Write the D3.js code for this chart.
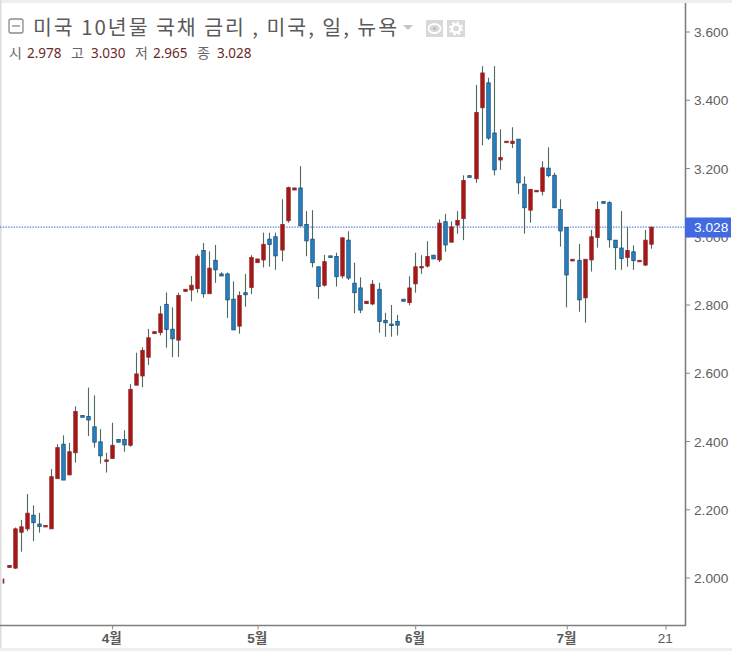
<!DOCTYPE html>
<html><head><meta charset="utf-8">
<script src="https://d3js.org/d3.v7.min.js"></script>
<style>html,body{margin:0;padding:0;background:#fff;overflow:hidden}svg{display:block}</style>
</head><body><svg id="c" width="732" height="651"></svg>
<script>
const opens=[1.985,2.031,2.029,2.134,2.144,2.184,2.158,2.151,2.144,2.291,2.392,2.302,2.367,2.476,2.473,2.443,2.399,2.342,2.350,2.406,2.406,2.389,2.565,2.592,2.647,2.716,2.719,2.802,2.729,2.697,2.840,2.844,2.848,2.960,2.833,2.931,2.891,2.891,2.817,2.738,2.836,2.851,2.924,2.932,2.993,3.000,2.961,3.047,3.137,3.143,3.036,2.993,2.912,2.858,2.944,2.942,2.885,2.990,2.864,2.850,2.804,2.803,2.846,2.755,2.744,2.752,2.817,2.807,2.862,2.909,2.914,2.946,2.932,3.044,2.984,3.034,3.053,3.179,3.170,3.378,3.451,3.304,3.225,3.277,3.273,3.286,3.154,3.078,3.132,3.133,3.201,3.180,3.080,3.027,2.929,2.931,2.821,2.932,2.998,3.103,3.100,2.990,2.967,2.939,2.956,2.928,2.917,2.978];
const highs=[1.997,2.037,2.148,2.170,2.246,2.213,2.191,2.154,2.319,2.392,2.418,2.396,2.503,2.476,2.558,2.535,2.436,2.367,2.455,2.406,2.433,2.568,2.660,2.676,2.730,2.722,2.797,2.837,2.793,2.836,2.846,2.885,2.949,2.982,2.957,2.976,2.896,2.895,2.869,2.840,2.891,2.946,2.935,3.012,3.012,3.012,3.110,3.147,3.143,3.207,3.075,3.078,2.912,2.947,2.944,2.953,2.997,3.016,2.924,2.881,2.811,2.873,2.865,2.777,2.800,2.771,2.817,2.884,2.953,2.946,2.987,2.946,3.051,3.067,3.045,3.075,3.180,3.179,3.445,3.500,3.466,3.500,3.315,3.280,3.321,3.286,3.177,3.139,3.136,3.221,3.262,3.188,3.110,3.027,2.934,2.979,2.934,3.020,3.104,3.103,3.104,2.990,3.075,3.029,2.975,2.931,3.020,3.030];
const lows=[1.985,2.031,2.026,2.077,2.137,2.108,2.133,2.151,2.144,2.291,2.287,2.302,2.338,2.471,2.416,2.382,2.335,2.309,2.350,2.398,2.370,2.385,2.565,2.559,2.624,2.716,2.711,2.675,2.647,2.648,2.840,2.811,2.836,2.821,2.833,2.865,2.885,2.762,2.727,2.716,2.795,2.832,2.924,2.910,2.912,2.903,2.928,3.041,3.137,3.032,2.943,2.910,2.818,2.854,2.939,2.854,2.878,2.873,2.776,2.776,2.804,2.799,2.719,2.707,2.707,2.711,2.811,2.799,2.836,2.891,2.910,2.935,2.926,2.956,2.984,3.009,2.990,3.174,3.158,3.268,3.284,3.180,3.196,3.277,3.260,3.125,3.009,3.041,3.132,3.121,3.174,3.085,2.971,2.793,2.929,2.780,2.748,2.898,2.968,3.098,2.968,2.903,2.903,2.912,2.903,2.928,2.914,2.965];
const closes=[1.997,2.037,2.144,2.150,2.190,2.162,2.151,2.154,2.297,2.382,2.287,2.370,2.488,2.471,2.463,2.398,2.358,2.346,2.389,2.398,2.390,2.553,2.598,2.667,2.704,2.722,2.774,2.728,2.701,2.828,2.846,2.858,2.943,2.833,2.908,2.903,2.885,2.815,2.727,2.828,2.830,2.939,2.935,2.978,2.977,2.944,3.036,3.144,3.143,3.032,2.988,2.924,2.854,2.927,2.939,2.883,2.997,2.879,2.836,2.785,2.811,2.861,2.752,2.748,2.741,2.741,2.811,2.850,2.912,2.913,2.942,2.935,3.040,2.976,3.029,3.048,3.165,3.174,3.364,3.480,3.289,3.196,3.232,3.280,3.280,3.158,3.085,3.139,3.136,3.202,3.179,3.085,3.017,2.888,2.934,2.815,2.934,3.000,3.080,3.098,2.991,2.968,2.936,2.960,2.930,2.931,2.990,3.028];
const yTicks=[2.0,2.2,2.4,2.6,2.8,3.0,3.2,3.4,3.6];
const xTickPos=[19,43,69,94,110.3];
const xTickLabels=["4월","5월","6월","7월","21"];
const lastPrice=3.028;
const titleText="미국 10년물 국채 금리 , 미국, 일, 뉴욕";
const legendKeys=["시","고","저","종"];
const legendVals=["2.978","3.030","2.965","3.028"];

const svg=d3.select("#c");
const x=d3.scaleLinear().domain([1,108]).range([2.7,651.3]);
const y=d3.scaleLinear().domain([2,3.6]).range([578,32]);
const plotR=685.5, plotB=625.5;
const SANS='"Liberation Sans",Arial,sans-serif', KR='"Noto Sans CJK KR",sans-serif';

// page chrome
svg.append("rect").attr("x",0).attr("y",0).attr("width",732).attr("height",3).attr("fill","#eeeeee");
svg.append("rect").attr("x",0).attr("y",648).attr("width",732).attr("height",3).attr("fill","#eeeeee");
svg.append("rect").attr("x",0).attr("y",0).attr("width",1.5).attr("height",648).attr("fill","#dddddd");

// last price line
svg.append("line").attr("x1",0).attr("x2",plotR).attr("y1",y(lastPrice)).attr("y2",y(lastPrice))
  .attr("stroke","#6286e2").attr("stroke-width",1.2).attr("stroke-dasharray","1.5 1.2");

// candles
const idx=d3.range(opens.length);
const px=i=>Math.round(x(i+1))+0.5;
const bw=i=>i===0?0.8:3.5;
const g=svg.append("g");
g.selectAll("line.w").data(idx).join("line").attr("class","w")
  .attr("x1",px).attr("x2",px)
  .attr("y1",i=>y(highs[i])).attr("y2",i=>y(lows[i]))
  .attr("stroke","#4d6b5e").attr("stroke-width",1.1);
g.selectAll("rect.b").data(idx).join("rect").attr("class","b")
  .attr("x",i=>px(i)-bw(i)/2).attr("width",bw)
  .attr("y",i=>y(Math.max(opens[i],closes[i])))
  .attr("height",i=>Math.max(1.5,Math.abs(y(opens[i])-y(closes[i]))))
  .attr("fill",i=>closes[i]>=opens[i]?"#a91616":"#2680c2")
  .attr("stroke",i=>closes[i]>=opens[i]?"#8c2a2a":"#1d5078")
  .attr("stroke-width",0.8);

// axes borders
svg.append("line").attr("x1",plotR).attr("x2",plotR).attr("y1",3).attr("y2",plotB+0.5).attr("stroke","#7f7f7f").attr("stroke-width",1.6);
svg.append("line").attr("x1",0).attr("x2",plotR).attr("y1",plotB).attr("y2",plotB).attr("stroke","#7f7f7f").attr("stroke-width",1.6);

// y axis
const yg=svg.append("g");
yg.selectAll("line").data(yTicks).join("line")
  .attr("x1",plotR).attr("x2",plotR+4.5).attr("y1",d=>y(d)).attr("y2",d=>y(d)).attr("stroke","#888");
yg.selectAll("text").data(yTicks).join("text")
  .attr("x",694).attr("y",d=>y(d)+5).text(d=>d3.format(".3f")(d))
  .attr("font-family",SANS).attr("font-size",13.7).attr("fill","#5f5f5f");

// x axis
const xg=svg.append("g");
xg.selectAll("line").data(xTickPos).join("line")
  .attr("x1",d=>x(d)+0.8).attr("x2",d=>x(d)+0.8).attr("y1",plotB).attr("y2",plotB+4).attr("stroke","#888");
xg.selectAll("text").data(xTickPos).join("text")
  .attr("x",d=>x(d)).attr("y",643).attr("text-anchor","middle")
  .text((d,i)=>xTickLabels[i])
  .attr("font-family",`${SANS.split(",")[0]},"Noto Sans CJK KR",sans-serif`)
  .attr("font-size",13.5)
  .attr("font-weight",(d,i)=>i<4?"bold":"normal")
  .attr("fill","#5a5a5a");

// last price label
svg.append("rect").attr("x",plotR-0.5).attr("y",217.5).attr("width",46).attr("height",20).attr("fill","#4169e1");
svg.append("text").attr("x",694).attr("y",y(lastPrice)+5).text("3.028")
  .attr("font-family",SANS).attr("font-size",13.7).attr("fill","#fff");

// title block
svg.append("rect").attr("x",9).attr("y",19).attr("width",14).attr("height",14).attr("rx",2)
  .attr("fill","none").attr("stroke","#8a8a8a").attr("stroke-width",1.3);
svg.append("line").attr("x1",12).attr("x2",20).attr("y1",26).attr("y2",26).attr("stroke","#8a8a8a").attr("stroke-width",1.3);
svg.append("text").attr("x",33).attr("y",34.5).text(titleText)
  .attr("font-family",KR).attr("font-size",20.5).attr("fill","#5a5a5a")
  .attr("textLength",364).attr("lengthAdjust","spacing");
svg.append("path").attr("d",d3.line()([[403,25],[413,25],[408,30]])+"Z").attr("fill","#c4c4c4");
svg.append("rect").attr("x",426).attr("y",20).attr("width",17).attr("height",17).attr("fill","#d9d9d9");
svg.append("ellipse").attr("cx",434.5).attr("cy",28.5).attr("rx",6).attr("ry",4.5).attr("fill","none").attr("stroke","#fff").attr("stroke-width",1.8);
svg.append("circle").attr("cx",434.5).attr("cy",28.5).attr("r",1.5).attr("fill","#bbb");
svg.append("rect").attr("x",447).attr("y",20).attr("width",18).attr("height",17).attr("fill","#d9d9d9");
svg.append("circle").attr("cx",456).attr("cy",28.5).attr("r",4).attr("fill","none").attr("stroke","#fff").attr("stroke-width",2.5);
svg.append("circle").attr("cx",456).attr("cy",28.5).attr("r",6).attr("fill","none").attr("stroke","#fff").attr("stroke-width",2).attr("stroke-dasharray","2.5 2.2");

// legend line
const keyX=[9,71,135,197], valX=[27,91,153,217];
legendKeys.forEach((k,i)=>{
  svg.append("text").attr("x",keyX[i]).attr("y",58).text(k)
    .attr("font-family",KR).attr("font-size",14).attr("fill","#666");
  svg.append("text").attr("x",valX[i]).attr("y",58).text(legendVals[i])
    .attr("font-family",'"Noto Sans","Open Sans",sans-serif').attr("font-size",13.5).attr("fill","#6b2a2a");
});
</script></body></html>
